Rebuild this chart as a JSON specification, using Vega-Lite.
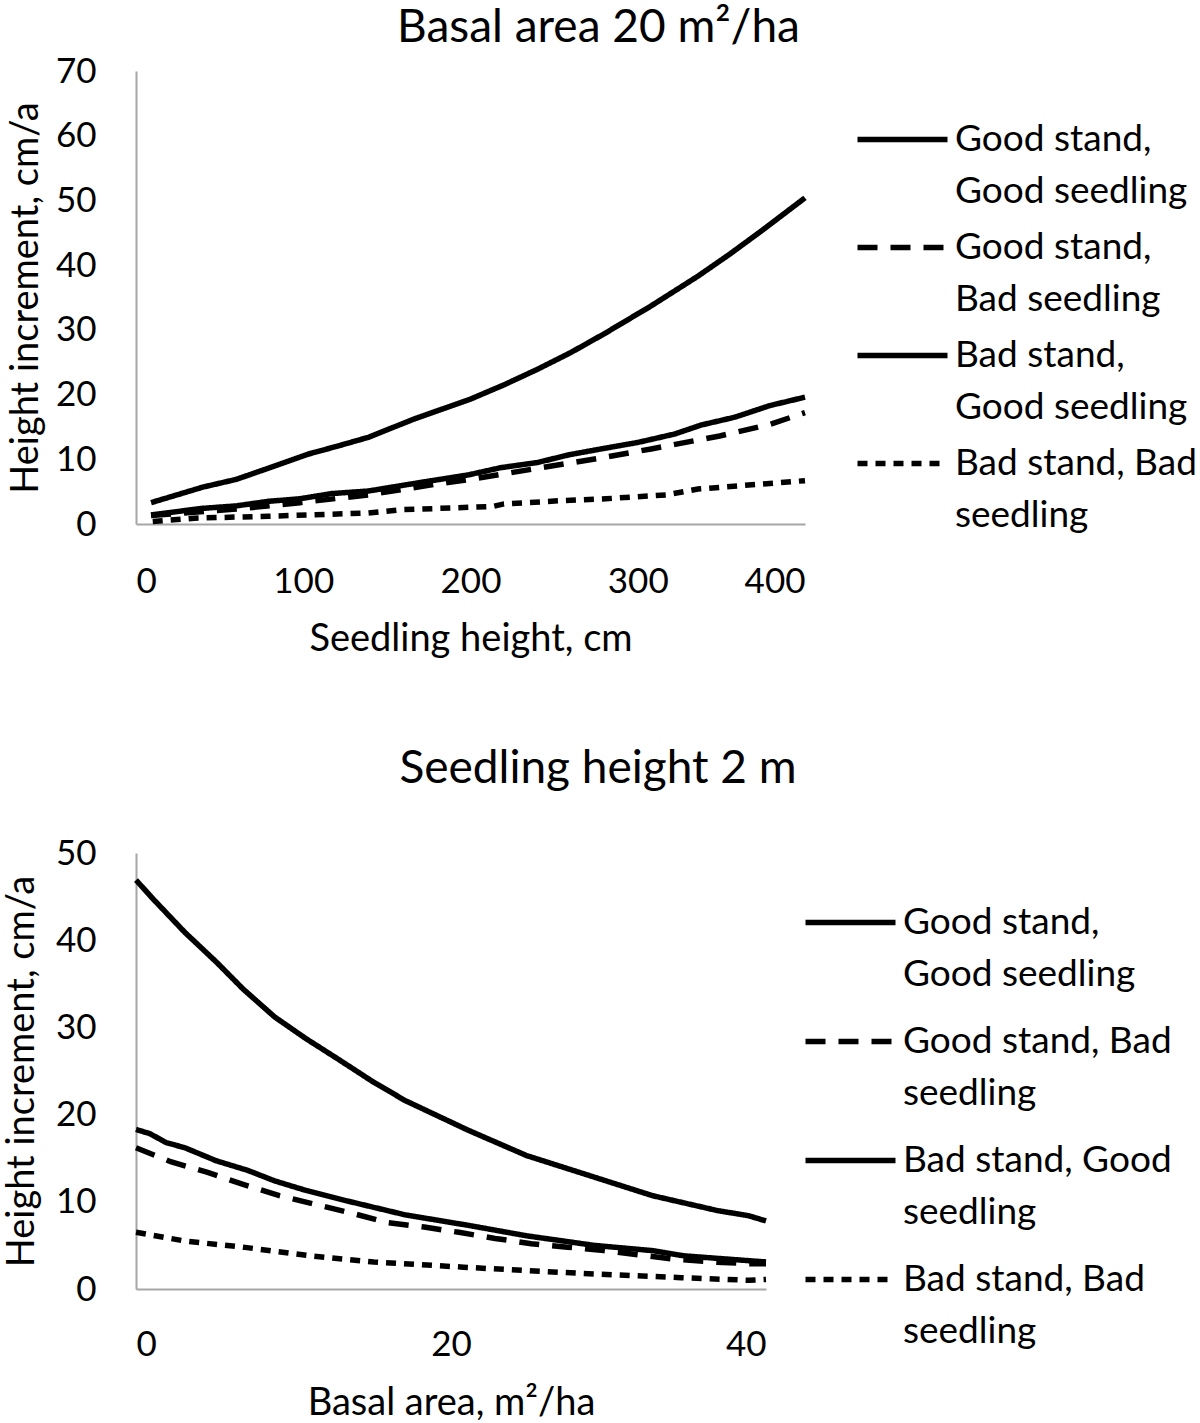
{
  "$schema": "https://vega.github.io/schema/vega-lite/v6.json",
  "background": "white",
  "padding": {"left": 3, "top": 5, "right": 0, "bottom": 0},
  "spacing": 88,
  "resolve": {
    "scale": {"strokeDash": "independent", "strokeWidth": "independent"},
    "legend": {"strokeDash": "independent", "strokeWidth": "independent"}
  },
  "config": {
    "view": {"stroke": null},
    "font": "Lato",
    "style": {"guide-label": {"lineHeight": 52}},
    "axis": {
      "domainColor": "#a6a6a6",
      "domainWidth": 2,
      "ticks": false,
      "grid": false,
      "labelFont": "Lato",
      "labelFontSize": 35,
      "labelColor": "black",
      "titleFont": "Lato",
      "titleFontSize": 38,
      "titleFontWeight": "normal",
      "titleColor": "black"
    },
    "legend": {
      "labelFont": "Lato",
      "labelFontSize": 37,
      "labelColor": "black",
      "symbolType": "M-3,0H3",
      "symbolSize": 900,
      "symbolStrokeColor": "black",
      "symbolFillColor": "transparent",
      "labelOffset": 34,
      "padding": 0,
      "title": null
    },
    "title": {"font": "Lato", "fontSize": 46, "fontWeight": "normal", "color": "black"}
  },
  "datasets": {
    "top": [
      {"x": 9, "y": 3.3, "s": "Good stand, Good seedling"},
      {"x": 40, "y": 5.7, "s": "Good stand, Good seedling"},
      {"x": 60, "y": 6.9, "s": "Good stand, Good seedling"},
      {"x": 80, "y": 8.7, "s": "Good stand, Good seedling"},
      {"x": 103, "y": 10.8, "s": "Good stand, Good seedling"},
      {"x": 120, "y": 12.0, "s": "Good stand, Good seedling"},
      {"x": 139, "y": 13.4, "s": "Good stand, Good seedling"},
      {"x": 166, "y": 16.2, "s": "Good stand, Good seedling"},
      {"x": 200, "y": 19.3, "s": "Good stand, Good seedling"},
      {"x": 220, "y": 21.5, "s": "Good stand, Good seedling"},
      {"x": 240, "y": 23.9, "s": "Good stand, Good seedling"},
      {"x": 260, "y": 26.5, "s": "Good stand, Good seedling"},
      {"x": 280, "y": 29.4, "s": "Good stand, Good seedling"},
      {"x": 308, "y": 33.7, "s": "Good stand, Good seedling"},
      {"x": 336, "y": 38.3, "s": "Good stand, Good seedling"},
      {"x": 355, "y": 41.7, "s": "Good stand, Good seedling"},
      {"x": 374, "y": 45.3, "s": "Good stand, Good seedling"},
      {"x": 400, "y": 50.4, "s": "Good stand, Good seedling"},

      {"x": 9, "y": 1.3, "s": "Good stand, Bad seedling"},
      {"x": 60, "y": 2.3, "s": "Good stand, Bad seedling"},
      {"x": 98, "y": 3.3, "s": "Good stand, Bad seedling"},
      {"x": 139, "y": 4.5, "s": "Good stand, Bad seedling"},
      {"x": 180, "y": 6.2, "s": "Good stand, Bad seedling"},
      {"x": 200, "y": 6.9, "s": "Good stand, Bad seedling"},
      {"x": 240, "y": 8.6, "s": "Good stand, Bad seedling"},
      {"x": 280, "y": 10.3, "s": "Good stand, Bad seedling"},
      {"x": 308, "y": 11.6, "s": "Good stand, Bad seedling"},
      {"x": 349, "y": 13.6, "s": "Good stand, Bad seedling"},
      {"x": 379, "y": 15.4, "s": "Good stand, Bad seedling"},
      {"x": 400, "y": 17.2, "s": "Good stand, Bad seedling"},

      {"x": 9, "y": 1.4, "s": "Bad stand, Good seedling"},
      {"x": 39, "y": 2.4, "s": "Bad stand, Good seedling"},
      {"x": 60, "y": 2.8, "s": "Bad stand, Good seedling"},
      {"x": 79, "y": 3.5, "s": "Bad stand, Good seedling"},
      {"x": 98, "y": 3.9, "s": "Bad stand, Good seedling"},
      {"x": 117, "y": 4.7, "s": "Bad stand, Good seedling"},
      {"x": 139, "y": 5.1, "s": "Bad stand, Good seedling"},
      {"x": 172, "y": 6.5, "s": "Bad stand, Good seedling"},
      {"x": 199, "y": 7.6, "s": "Bad stand, Good seedling"},
      {"x": 218, "y": 8.7, "s": "Bad stand, Good seedling"},
      {"x": 240, "y": 9.5, "s": "Bad stand, Good seedling"},
      {"x": 259, "y": 10.7, "s": "Bad stand, Good seedling"},
      {"x": 278, "y": 11.6, "s": "Bad stand, Good seedling"},
      {"x": 300, "y": 12.6, "s": "Bad stand, Good seedling"},
      {"x": 322, "y": 13.9, "s": "Bad stand, Good seedling"},
      {"x": 338, "y": 15.3, "s": "Bad stand, Good seedling"},
      {"x": 358, "y": 16.5, "s": "Bad stand, Good seedling"},
      {"x": 379, "y": 18.3, "s": "Bad stand, Good seedling"},
      {"x": 400, "y": 19.6, "s": "Bad stand, Good seedling"},

      {"x": 10, "y": 0.4, "s": "Bad stand, Bad seedling"},
      {"x": 35, "y": 0.9, "s": "Bad stand, Bad seedling"},
      {"x": 79, "y": 1.2, "s": "Bad stand, Bad seedling"},
      {"x": 139, "y": 1.7, "s": "Bad stand, Bad seedling"},
      {"x": 158, "y": 2.2, "s": "Bad stand, Bad seedling"},
      {"x": 213, "y": 2.7, "s": "Bad stand, Bad seedling"},
      {"x": 220, "y": 3.1, "s": "Bad stand, Bad seedling"},
      {"x": 254, "y": 3.6, "s": "Bad stand, Bad seedling"},
      {"x": 281, "y": 3.9, "s": "Bad stand, Bad seedling"},
      {"x": 317, "y": 4.5, "s": "Bad stand, Bad seedling"},
      {"x": 336, "y": 5.4, "s": "Bad stand, Bad seedling"},
      {"x": 400, "y": 6.7, "s": "Bad stand, Bad seedling"}
    ],
    "bottom": [
      {"x": 0, "y": 46.9, "s": "Good stand, Good seedling"},
      {"x": 1.1, "y": 44.7, "s": "Good stand, Good seedling"},
      {"x": 3.1, "y": 40.9, "s": "Good stand, Good seedling"},
      {"x": 5.1, "y": 37.5, "s": "Good stand, Good seedling"},
      {"x": 6.8, "y": 34.4, "s": "Good stand, Good seedling"},
      {"x": 8.8, "y": 31.2, "s": "Good stand, Good seedling"},
      {"x": 10.8, "y": 28.7, "s": "Good stand, Good seedling"},
      {"x": 12.8, "y": 26.4, "s": "Good stand, Good seedling"},
      {"x": 15.1, "y": 23.7, "s": "Good stand, Good seedling"},
      {"x": 17.1, "y": 21.6, "s": "Good stand, Good seedling"},
      {"x": 21.1, "y": 18.2, "s": "Good stand, Good seedling"},
      {"x": 24.8, "y": 15.3, "s": "Good stand, Good seedling"},
      {"x": 28.8, "y": 13.0, "s": "Good stand, Good seedling"},
      {"x": 32.8, "y": 10.7, "s": "Good stand, Good seedling"},
      {"x": 36.9, "y": 9.0, "s": "Good stand, Good seedling"},
      {"x": 38.9, "y": 8.4, "s": "Good stand, Good seedling"},
      {"x": 40, "y": 7.8, "s": "Good stand, Good seedling"},

      {"x": 0, "y": 16.2, "s": "Good stand, Bad seedling"},
      {"x": 2.2, "y": 14.6, "s": "Good stand, Bad seedling"},
      {"x": 4.5, "y": 13.4, "s": "Good stand, Bad seedling"},
      {"x": 6.8, "y": 12.0, "s": "Good stand, Bad seedling"},
      {"x": 9.1, "y": 10.7, "s": "Good stand, Bad seedling"},
      {"x": 11.4, "y": 9.7, "s": "Good stand, Bad seedling"},
      {"x": 13.7, "y": 8.7, "s": "Good stand, Bad seedling"},
      {"x": 16.0, "y": 7.6, "s": "Good stand, Bad seedling"},
      {"x": 18.3, "y": 7.1, "s": "Good stand, Bad seedling"},
      {"x": 20.5, "y": 6.5, "s": "Good stand, Bad seedling"},
      {"x": 22.8, "y": 5.8, "s": "Good stand, Bad seedling"},
      {"x": 25.1, "y": 5.2, "s": "Good stand, Bad seedling"},
      {"x": 27.4, "y": 4.8, "s": "Good stand, Bad seedling"},
      {"x": 29.7, "y": 4.4, "s": "Good stand, Bad seedling"},
      {"x": 32.0, "y": 3.9, "s": "Good stand, Bad seedling"},
      {"x": 34.3, "y": 3.4, "s": "Good stand, Bad seedling"},
      {"x": 36.6, "y": 3.1, "s": "Good stand, Bad seedling"},
      {"x": 38.9, "y": 2.9, "s": "Good stand, Bad seedling"},
      {"x": 40, "y": 2.9, "s": "Good stand, Bad seedling"},

      {"x": 0, "y": 18.3, "s": "Bad stand, Good seedling"},
      {"x": 0.9, "y": 17.8, "s": "Bad stand, Good seedling"},
      {"x": 1.9, "y": 16.8, "s": "Bad stand, Good seedling"},
      {"x": 3.1, "y": 16.2, "s": "Bad stand, Good seedling"},
      {"x": 5.1, "y": 14.7, "s": "Bad stand, Good seedling"},
      {"x": 7.1, "y": 13.6, "s": "Bad stand, Good seedling"},
      {"x": 8.8, "y": 12.4, "s": "Bad stand, Good seedling"},
      {"x": 10.8, "y": 11.3, "s": "Bad stand, Good seedling"},
      {"x": 13.4, "y": 10.1, "s": "Bad stand, Good seedling"},
      {"x": 17.1, "y": 8.5, "s": "Bad stand, Good seedling"},
      {"x": 21.1, "y": 7.3, "s": "Bad stand, Good seedling"},
      {"x": 24.8, "y": 6.1, "s": "Bad stand, Good seedling"},
      {"x": 29.1, "y": 5.0, "s": "Bad stand, Good seedling"},
      {"x": 32.8, "y": 4.4, "s": "Bad stand, Good seedling"},
      {"x": 34.8, "y": 3.8, "s": "Bad stand, Good seedling"},
      {"x": 40, "y": 3.1, "s": "Bad stand, Good seedling"},

      {"x": 0, "y": 6.5, "s": "Bad stand, Bad seedling"},
      {"x": 3.1, "y": 5.5, "s": "Bad stand, Bad seedling"},
      {"x": 6.8, "y": 4.8, "s": "Bad stand, Bad seedling"},
      {"x": 11.1, "y": 3.8, "s": "Bad stand, Bad seedling"},
      {"x": 15.1, "y": 3.1, "s": "Bad stand, Bad seedling"},
      {"x": 20.8, "y": 2.5, "s": "Bad stand, Bad seedling"},
      {"x": 26.0, "y": 2.0, "s": "Bad stand, Bad seedling"},
      {"x": 30.6, "y": 1.6, "s": "Bad stand, Bad seedling"},
      {"x": 34.6, "y": 1.3, "s": "Bad stand, Bad seedling"},
      {"x": 38.9, "y": 1.0, "s": "Bad stand, Bad seedling"},
      {"x": 40, "y": 1.1, "s": "Bad stand, Bad seedling"}
    ]
  },
  "vconcat": [
    {
      "title": {"text": "Basal area 20 m²/ha", "anchor": "middle", "frame": "group", "dx": 128, "offset": 2},
      "width": 669,
      "height": 453,
      "data": {"name": "top"},
      "mark": {"type": "line", "color": "black", "strokeCap": "butt"},
      "encoding": {
        "x": {"field": "x", "type": "quantitative", "scale": {"domain": [0, 400], "nice": false},
              "axis": {"values": [0, 100, 200, 300, 400], "title": "Seedling height, cm", "labelPadding": 40, "titlePadding": 21}},
        "y": {"field": "y", "type": "quantitative", "scale": {"domain": [0, 70], "nice": false},
              "axis": {"values": [0, 10, 20, 30, 40, 50, 60, 70], "title": "Height increment, cm/a", "labelPadding": 40, "titlePadding": 10}},
        "strokeDash": {"field": "s", "type": "nominal",
          "scale": {"domain": ["Good stand, Good seedling", "Good stand, Bad seedling", "Bad stand, Good seedling", "Bad stand, Bad seedling"],
                    "range": [[1, 0], [20, 13], [1, 0], [10, 8]]},
          "legend": {"orient": "none", "legendX": 748, "legendY": 50, "rowPadding": 18, "labelLimit": 400,
                     "labelExpr": "datum.label == 'Bad stand, Bad seedling' ? ['Bad stand, Bad', 'seedling'] : [slice(datum.label, 0, indexof(datum.label, ',') + 1), slice(datum.label, indexof(datum.label, ',') + 2)]"}},
        "strokeWidth": {"field": "s", "type": "nominal",
          "scale": {"domain": ["Good stand, Good seedling", "Good stand, Bad seedling", "Bad stand, Good seedling", "Bad stand, Bad seedling"],
                    "range": [5.5, 5.5, 2, 1.5]},
          "legend": {"orient": "none", "legendX": 748, "legendY": 50, "rowPadding": 18, "labelLimit": 400,
                     "labelExpr": "datum.label == 'Bad stand, Bad seedling' ? ['Bad stand, Bad', 'seedling'] : [slice(datum.label, 0, indexof(datum.label, ',') + 1), slice(datum.label, indexof(datum.label, ',') + 2)]"}}
      }
    },
    {
      "title": {"text": "Seedling height 2 m", "anchor": "middle", "frame": "group", "dx": 147, "offset": 43},
      "width": 630,
      "height": 436,
      "data": {"name": "bottom"},
      "mark": {"type": "line", "color": "black", "strokeCap": "butt"},
      "encoding": {
        "x": {"field": "x", "type": "quantitative", "scale": {"domain": [0, 40], "nice": false},
              "axis": {"values": [0, 20, 40], "title": "Basal area, m²/ha", "labelPadding": 38, "titlePadding": 22}},
        "y": {"field": "y", "type": "quantitative", "scale": {"domain": [0, 50], "nice": false},
              "axis": {"values": [0, 10, 20, 30, 40, 50], "title": "Height increment, cm/a", "labelPadding": 40, "titlePadding": 14}},
        "strokeDash": {"field": "s", "type": "nominal",
          "scale": {"domain": ["Good stand, Good seedling", "Good stand, Bad seedling", "Bad stand, Good seedling", "Bad stand, Bad seedling"],
                    "range": [[1, 0], [20, 13], [1, 0], [10, 8]]},
          "legend": {"orient": "none", "legendX": 696, "legendY": 51, "rowPadding": 29, "labelLimit": 400,
                     "labelExpr": "datum.label == 'Good stand, Good seedling' ? ['Good stand,', 'Good seedling'] : [slice(datum.label, 0, indexof(datum.label, ' seedling')), 'seedling']"}},
        "strokeWidth": {"field": "s", "type": "nominal",
          "scale": {"domain": ["Good stand, Good seedling", "Good stand, Bad seedling", "Bad stand, Good seedling", "Bad stand, Bad seedling"],
                    "range": [5.5, 5.5, 2, 1.5]},
          "legend": {"orient": "none", "legendX": 696, "legendY": 51, "rowPadding": 29, "labelLimit": 400,
                     "labelExpr": "datum.label == 'Good stand, Good seedling' ? ['Good stand,', 'Good seedling'] : [slice(datum.label, 0, indexof(datum.label, ' seedling')), 'seedling']"}}
      }
    }
  ]
}
